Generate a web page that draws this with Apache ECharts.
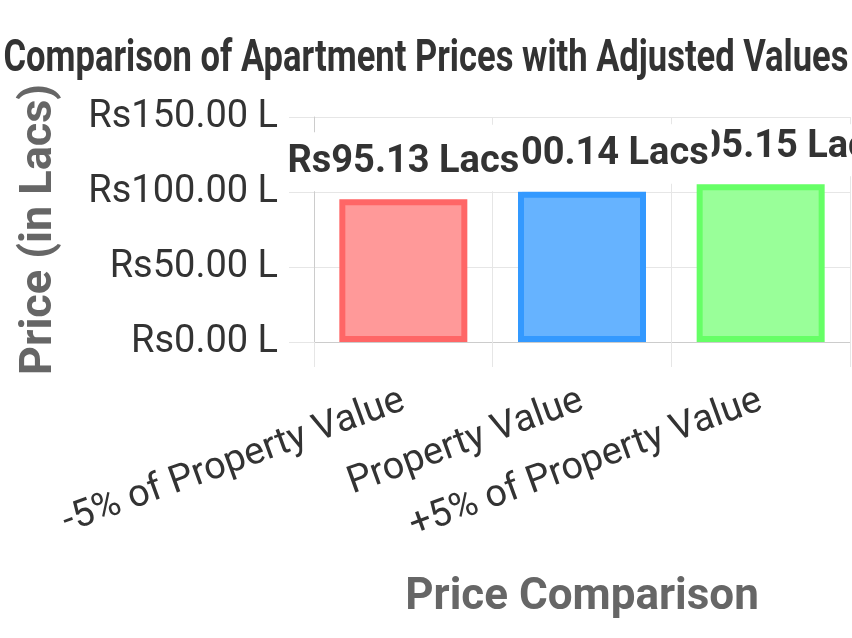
<!DOCTYPE html>
<html>
<head>
<meta charset="utf-8">
<script src="https://cdn.jsdelivr.net/npm/echarts@6/dist/echarts.min.js"></script>
<style>
  html, body { margin: 0; padding: 0; background: #fff; }
  #chart { width: 852px; height: 638px; }
</style>
</head>
<body>
<div id="chart"></div>
<script>
// ---- data ----
const chartTitle = 'Comparison of Apartment Prices with Adjusted Values';
const categories = ['-5% of Property Value', 'Property Value', '+5% of Property Value'];
const prices = [95.13, 100.14, 105.15];
const fillColors = ['#ff9999', '#66b3ff', '#99ff99'];
const borderColors = ['#ff6666', '#3399ff', '#66ff66'];
const yTicks = [0, 50, 100, 150];
const xAxisTitle = 'Price Comparison';
const yAxisTitle = 'Price (in Lacs)';

// ---- title compression (emulate condensed font) ----
const mctx = document.createElement('canvas').getContext('2d');
mctx.font = 'bold 44px Roboto';
const titleW = mctx.measureText(chartTitle).width;
const titleScale = 845 / titleW;

const chart = echarts.init(document.getElementById('chart'), null, { renderer: 'canvas' });

const series = categories.map((c, i) => ({
  type: 'bar',
  name: c,
  z: 10 - i,
  barWidth: 128,
  barGap: '-100%',
  data: categories.map((_, j) => (j === i ? prices[i] : '-')),
  itemStyle: {
    color: fillColors[i],
    borderColor: borderColors[i],
    borderWidth: 6
  },
  label: {
    show: true,
    position: 'top',
    distance: 8,
    formatter: p => 'Rs' + p.value.toFixed(2) + ' Lacs',
    fontFamily: 'Roboto',
    fontWeight: 'bold',
    fontSize: 38,
    lineHeight: 38,
    color: '#333',
    backgroundColor: '#fff',
    padding: i === categories.length - 1 ? [4, 3, 10, 3] : [11, 3, 10, 3]
  }
}));

chart.setOption({
  animation: false,
  backgroundColor: '#fff',
  graphic: [{
    type: 'text',
    x: 426,
    y: 60,
    scaleX: titleScale,
    style: {
      text: chartTitle,
      font: 'bold 44px Roboto',
      fill: '#333',
      align: 'center',
      verticalAlign: 'middle',
      textAlign: 'center',
      textVerticalAlign: 'middle'
    }
  }],
  grid: { left: 314, right: 2, top: 117, bottom: 296, containLabel: false },
  xAxis: {
    type: 'category',
    data: categories,
    boundaryGap: true,
    name: xAxisTitle,
    nameLocation: 'middle',
    nameGap: 234,
    nameTextStyle: { fontFamily: 'Roboto', fontWeight: 'bold', fontSize: 44, color: '#666' },
    axisLine: { show: true, lineStyle: { color: '#cccccc', width: 1 } },
    axisTick: { show: true, length: 25, alignWithLabel: false, lineStyle: { color: '#e6e6e6' } },
    splitLine: { show: true, lineStyle: { color: '#e6e6e6', width: 1 } },
    axisLabel: {
      interval: 0,
      rotate: 20,
      margin: 58,
      fontFamily: 'Roboto',
      fontSize: 38,
      color: '#333'
    }
  },
  yAxis: {
    type: 'value',
    min: yTicks[0],
    max: yTicks[yTicks.length - 1],
    interval: yTicks[1] - yTicks[0],
    name: yAxisTitle,
    nameLocation: 'middle',
    nameGap: 252,
    nameTextStyle: { fontFamily: 'Roboto', fontWeight: 'bold', fontSize: 45, color: '#666' },
    axisLine: { show: true, lineStyle: { color: '#cccccc', width: 1 } },
    axisTick: { show: true, length: 25, lineStyle: { color: '#e6e6e6' } },
    splitLine: { show: true, lineStyle: { color: '#e6e6e6', width: 1 } },
    axisLabel: {
      margin: 36,
      fontFamily: 'Roboto',
      fontSize: 38,
      color: '#333',
      formatter: v => 'Rs' + v.toFixed(2) + ' L'
    }
  },
  series: series
});
</script>
</body>
</html>
